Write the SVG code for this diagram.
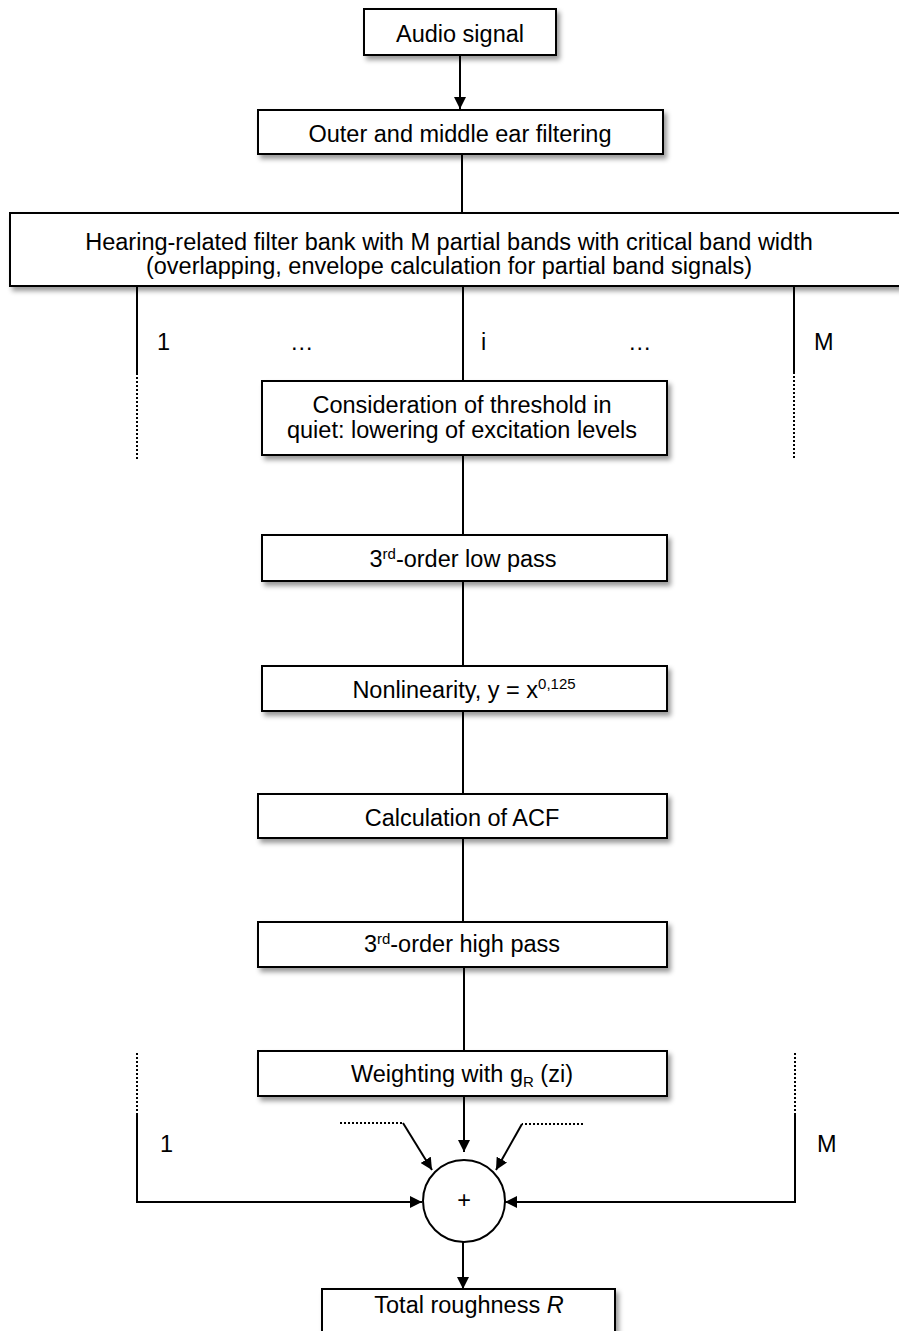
<svg xmlns="http://www.w3.org/2000/svg" width="899" height="1331" viewBox="0 0 899 1331">
<style>
.box{fill:#fff;stroke:#000;stroke-width:2;filter:url(#sh)}
.t{font-family:"Liberation Sans",Arial,sans-serif;font-size:23.5px;fill:#000;text-anchor:middle}
.l{font-family:"Liberation Sans",Arial,sans-serif;font-size:23.5px;fill:#000}
.c{fill:none;stroke:#000;stroke-width:2}
.d{fill:none;stroke:#000;stroke-width:2;stroke-dasharray:2 2}
.a{marker-end:url(#ah)}
</style>
<defs>
<filter id="sh" x="-10%" y="-30%" width="120%" height="170%">
<feDropShadow dx="3" dy="4" stdDeviation="2.5" flood-color="#000" flood-opacity="0.4"/>
</filter>
<marker id="ah" viewBox="0 0 12 12" refX="12" refY="6" markerWidth="12" markerHeight="12" markerUnits="userSpaceOnUse" orient="auto">
<path d="M0,0 L12,6 L0,12 z" fill="#000"/>
</marker>
</defs>
<rect width="899" height="1331" fill="#fff"/>

<g id="connectors">
<line class="c a" x1="460" y1="55" x2="460" y2="109"/>
<line class="c" x1="462" y1="154" x2="462" y2="213"/>
<line class="c" x1="463" y1="286" x2="463" y2="381"/>
<line class="c" x1="137" y1="286" x2="137" y2="373"/>
<line class="d" x1="137" y1="373" x2="137" y2="459"/>
<line class="c" x1="794" y1="286" x2="794" y2="372"/>
<line class="d" x1="794" y1="372" x2="794" y2="460"/>
<line class="c" x1="463" y1="455" x2="463" y2="535"/>
<line class="c" x1="463" y1="581" x2="463" y2="666"/>
<line class="c" x1="463" y1="711" x2="463" y2="794"/>
<line class="c" x1="463" y1="838" x2="463" y2="922"/>
<line class="c" x1="464" y1="967" x2="464" y2="1051"/>
<line class="c a" x1="464" y1="1096" x2="464" y2="1152"/>
<line class="d" x1="137" y1="1053" x2="137" y2="1113"/>
<polyline class="c a" points="137,1113 137,1202 422,1202"/>
<line class="d" x1="795" y1="1053" x2="795" y2="1113"/>
<polyline class="c a" points="795,1113 795,1202 505,1202"/>
<line class="d" x1="340" y1="1123" x2="403" y2="1123"/>
<line class="c a" x1="403" y1="1123" x2="432" y2="1170"/>
<line class="d" x1="583" y1="1124" x2="522" y2="1124"/>
<line class="c a" x1="522" y1="1124" x2="496" y2="1170"/>
<line class="c a" x1="463" y1="1242" x2="463" y2="1289"/>
</g>

<g id="labels">
<text class="l" x="157" y="350">1</text>
<text class="l" x="290" y="350">…</text>
<text class="l" x="481" y="350">i</text>
<text class="l" x="628" y="350">…</text>
<text class="l" x="814" y="350">M</text>
<text class="l" x="160" y="1152">1</text>
<text class="l" x="817" y="1152">M</text>
</g>

<g id="audio">
<rect class="box" x="364" y="9" width="192" height="46"/>
<text class="t" x="460" y="42">Audio signal</text>
</g>
<g id="outer">
<rect class="box" x="258" y="110" width="405" height="44"/>
<text class="t" x="460" y="142">Outer and middle ear filtering</text>
</g>
<g id="filterbank">
<rect class="box" x="10" y="213" width="900" height="73"/>
<text class="t" x="449" y="250">Hearing-related filter bank with M partial bands with critical band width</text>
<text class="t" x="449" y="274">(overlapping, envelope calculation for partial band signals)</text>
</g>
<g id="threshold">
<rect class="box" x="262" y="381" width="405" height="74"/>
<text class="t" x="462" y="413">Consideration of threshold in</text>
<text class="t" x="462" y="438">quiet: lowering of excitation levels</text>
</g>
<g id="lowpass">
<rect class="box" x="262" y="535" width="405" height="46"/>
<text class="t" x="463" y="567">3<tspan font-size="15" dy="-8">rd</tspan><tspan dy="8">-order low pass</tspan></text>
</g>
<g id="nonlin">
<rect class="box" x="262" y="666" width="405" height="45"/>
<text class="t" x="464" y="698">Nonlinearity, y = x<tspan font-size="15" dy="-9">0,125</tspan></text>
</g>
<g id="acf">
<rect class="box" x="258" y="794" width="409" height="44"/>
<text class="t" x="462" y="826">Calculation of ACF</text>
</g>
<g id="highpass">
<rect class="box" x="258" y="922" width="409" height="45"/>
<text class="t" x="462" y="952">3<tspan font-size="15" dy="-8">rd</tspan><tspan dy="8">-order high pass</tspan></text>
</g>
<g id="weighting">
<rect class="box" x="258" y="1051" width="409" height="45"/>
<text class="t" x="462" y="1082">Weighting with g<tspan font-size="15" dy="5">R</tspan><tspan dy="-5"> (zi)</tspan></text>
</g>
<g id="sum">
<circle cx="464" cy="1201" r="41" fill="#fff" stroke="#000" stroke-width="2"/>
<text class="t" x="464" y="1208" font-size="18">+</text>
</g>
<g id="total">
<rect class="box" x="322" y="1289" width="293" height="50"/>
<text class="t" x="469" y="1313">Total roughness <tspan font-style="italic">R</tspan></text>
</g>
</svg>
